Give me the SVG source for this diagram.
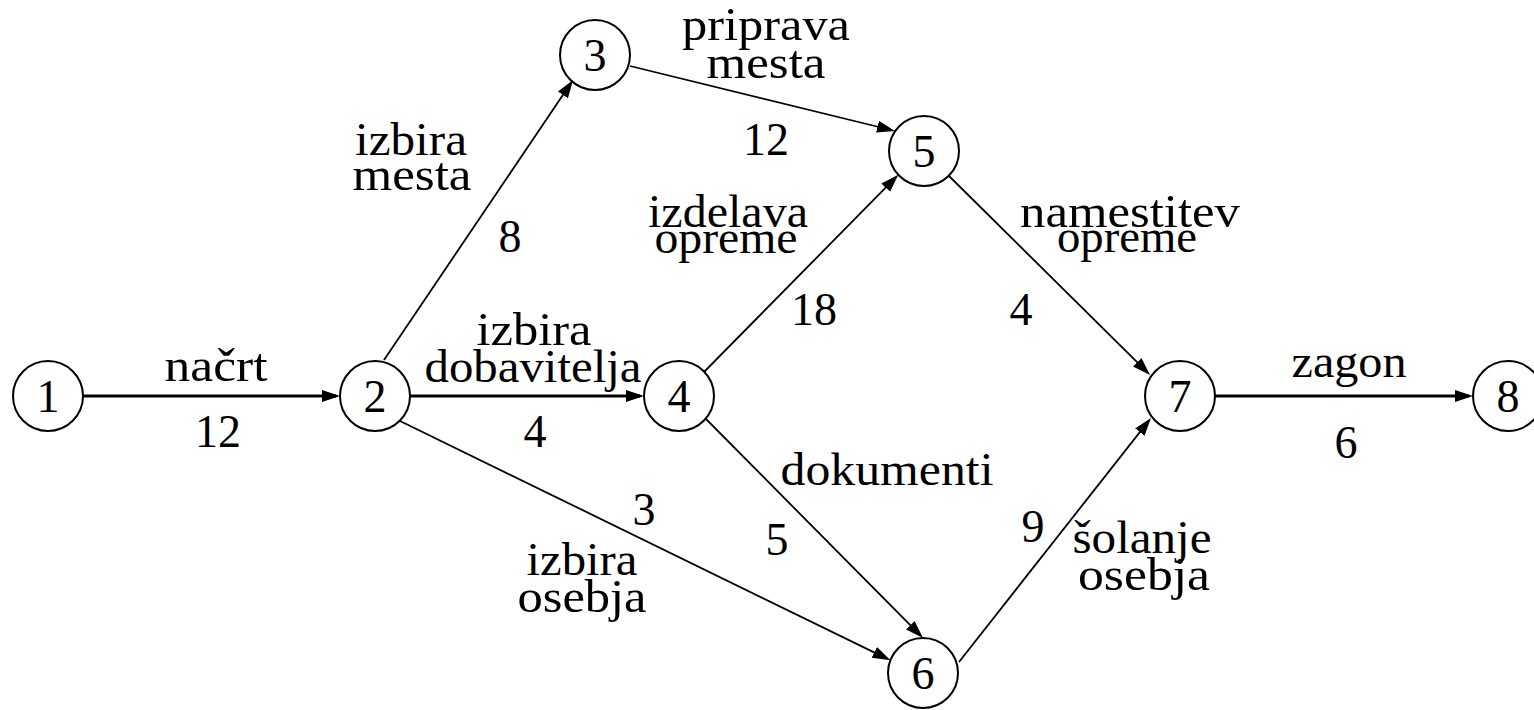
<svg xmlns="http://www.w3.org/2000/svg" width="1534" height="710" viewBox="0 0 1534 710">
<style>
  .node circle { fill: #fff; stroke: #000; stroke-width: 2; }
  text { font-family: "Liberation Serif", "Times New Roman", serif; font-size: 46px; fill: #000; text-anchor: middle; }
  .edge { stroke: #000; stroke-width: 1.8; fill: none; marker-end: url(#arrow); }
  .thick { stroke-width: 3; }
</style>
<defs>
  <marker id="arrow" markerUnits="userSpaceOnUse" markerWidth="20" markerHeight="14" refX="14" refY="6" orient="auto" viewBox="0 0 20 14">
    <path d="M0,0 L18,6 L0,12 z" fill="#000"/>
  </marker>
</defs>
<rect width="1534" height="710" fill="#fff"/>
<g id="connectors">
  <line class="edge thick" x1="82" y1="396" x2="336" y2="396"/>
  <line class="edge thick" x1="410" y1="396" x2="640" y2="396"/>
  <line class="edge" x1="384" y1="360" x2="570.8" y2="83.3"/>
  <line class="edge" x1="630" y1="66" x2="891.1" y2="130"/>
  <line class="edge" x1="400" y1="421" x2="886.9" y2="658.6"/>
  <line class="edge" x1="704" y1="372" x2="895.5" y2="177.7"/>
  <line class="edge" x1="704" y1="417" x2="920.2" y2="635.2"/>
  <line class="edge" x1="949" y1="176" x2="1147.2" y2="372.2"/>
  <line class="edge" x1="959" y1="662" x2="1148.5" y2="421.1"/>
  <line class="edge thick" x1="1215" y1="396" x2="1469" y2="396"/>
</g>
<g id="labels">
  <text x="216" y="381" textLength="103" lengthAdjust="spacingAndGlyphs">načrt</text>
  <text x="218" y="447">12</text>
  <text x="766" y="40" textLength="168" lengthAdjust="spacingAndGlyphs">priprava</text>
  <text x="766" y="78" textLength="119" lengthAdjust="spacingAndGlyphs">mesta</text>
  <text x="766" y="155">12</text>
  <text x="411" y="155" textLength="112" lengthAdjust="spacingAndGlyphs">izbira</text>
  <text x="412" y="190" textLength="119" lengthAdjust="spacingAndGlyphs">mesta</text>
  <text x="510" y="252">8</text>
  <text x="534" y="345" textLength="115" lengthAdjust="spacingAndGlyphs">izbira</text>
  <text x="533" y="382" textLength="217" lengthAdjust="spacingAndGlyphs">dobavitelja</text>
  <text x="535" y="447">4</text>
  <text x="644" y="525">3</text>
  <text x="582" y="575" textLength="111" lengthAdjust="spacingAndGlyphs">izbira</text>
  <text x="582" y="612" textLength="129" lengthAdjust="spacingAndGlyphs">osebja</text>
  <text x="728" y="227" textLength="160" lengthAdjust="spacingAndGlyphs">izdelava</text>
  <text x="726" y="253" textLength="143" lengthAdjust="spacingAndGlyphs">opreme</text>
  <text x="814" y="325">18</text>
  <text x="1130" y="227" textLength="220" lengthAdjust="spacingAndGlyphs">namestitev</text>
  <text x="1127" y="252" textLength="140" lengthAdjust="spacingAndGlyphs">opreme</text>
  <text x="1021" y="325">4</text>
  <text x="887" y="485" textLength="213" lengthAdjust="spacingAndGlyphs">dokumenti</text>
  <text x="777" y="555">5</text>
  <text x="1033" y="542">9</text>
  <text x="1142" y="553" textLength="139" lengthAdjust="spacingAndGlyphs">šolanje</text>
  <text x="1144" y="590" textLength="132" lengthAdjust="spacingAndGlyphs">osebja</text>
  <text x="1349" y="377" textLength="115" lengthAdjust="spacingAndGlyphs">zagon</text>
  <text x="1346" y="458">6</text>
</g>
<g id="node1" class="node"><circle cx="48" cy="396" r="35"/><text x="48" y="412">1</text></g>
<g id="node2" class="node"><circle cx="375" cy="396" r="35"/><text x="375" y="412">2</text></g>
<g id="node3" class="node"><circle cx="595" cy="55" r="35"/><text x="595" y="71">3</text></g>
<g id="node4" class="node"><circle cx="679" cy="396" r="35"/><text x="679" y="412">4</text></g>
<g id="node5" class="node"><circle cx="924" cy="151" r="35"/><text x="924" y="167">5</text></g>
<g id="node6" class="node"><circle cx="923" cy="673" r="35"/><text x="923" y="689">6</text></g>
<g id="node7" class="node"><circle cx="1180" cy="396" r="35"/><text x="1180" y="412">7</text></g>
<g id="node8" class="node"><circle cx="1508" cy="396" r="35"/><text x="1508" y="412">8</text></g>
</svg>
